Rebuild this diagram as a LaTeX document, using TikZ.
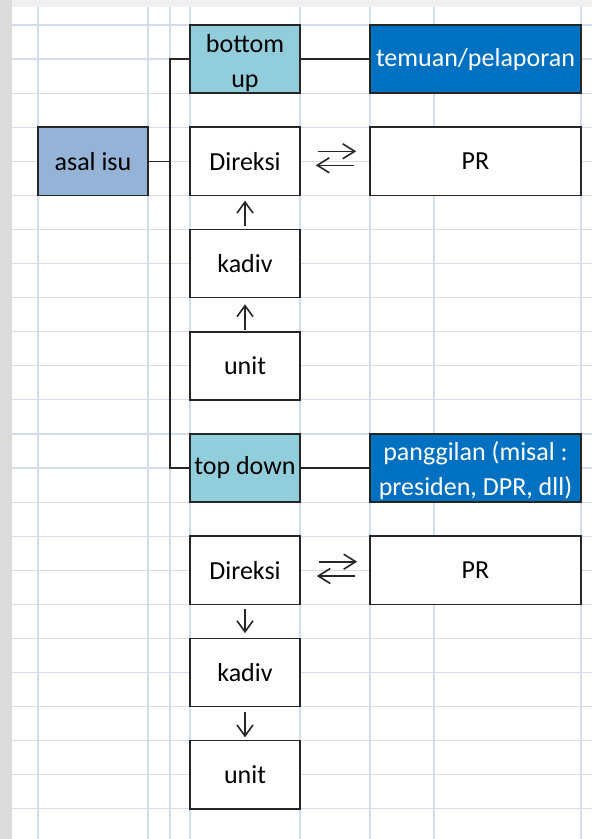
\documentclass[tikz,border=0pt]{standalone}
\usepackage{fontspec}
\setmainfont{Carlito}
\usetikzlibrary{arrows.meta}
\definecolor{gridc}{HTML}{D5DCEB}
\definecolor{lblue}{HTML}{92CDDC}
\definecolor{dblue}{HTML}{0070C0}
\definecolor{sblue}{HTML}{95B3D7}
\definecolor{edge}{HTML}{262626}
\tikzset{
  box/.style={draw=edge, line width=1.6pt, fill=white, minimum height=68.2pt,
    inner sep=0pt, align=center, font=\fontsize{26}{35}\selectfont, text=black},
  narrowbox/.style={box, minimum width=110pt},
  widebox/.style={box, minimum width=211pt},
  link/.style={draw=edge, line width=1.5pt},
  vtip/.style={draw=edge, line width=1.6pt, -{Straight Barb[length=11pt,width=16pt]}},
  htip/.style={draw=edge, line width=1.6pt, -{Straight Barb[length=12pt,width=15pt]}},
  gridline/.style={draw=gridc, line width=1.2pt}
}
\begin{document}
\begin{tikzpicture}[x=1pt,y=-1pt]
\useasboundingbox (0,0) rectangle (592,839);
\fill[white] (0,0) rectangle (592,839);
\fill[black!6] (0,0) rectangle (592,7);
\fill[black!14] (0,0) rectangle (12,839);
% grid
\foreach \xx in {38,148,170,190,300,370,434,581}
  \draw[gridline] (\xx,7) -- (\xx,839);
\foreach \k in {0,...,23}
  \draw[gridline] (12,25+34.08*\k) -- (592,25+34.08*\k);
% boxes
\node[narrowbox, fill=lblue] (bu) at (245,59.1) {\rule{0pt}{25pt}bottom\\up};
\node[widebox, fill=dblue, text=white] (tem) at (475.5,59.1) {temuan/pelaporan};
\node[narrowbox, fill=sblue] (asal) at (93,161.3) {asal isu};
\node[narrowbox] (d1) at (245,161.3) {Direksi};
\node[widebox] (pr1) at (475.5,161.3) {PR};
\node[narrowbox] (k1) at (245,263.4) {kadiv};
\node[narrowbox] (u1) at (245,365.8) {unit};
\node[narrowbox, fill=lblue] (td) at (245,468) {top down};
\node[widebox, fill=dblue, text=white] (pg) at (475.5,468) {\rule{0pt}{25pt}panggilan (misal :\\presiden, DPR, dll)};
\node[narrowbox] (d2) at (245,570.3) {Direksi};
\node[widebox] (pr2) at (475.5,570.3) {PR};
\node[narrowbox] (k2) at (245,672.5) {kadiv};
\node[narrowbox] (u2) at (245,774.7) {unit};
% connectors
\coordinate (trunk) at (170,161.3);
\draw[link] (bu.west) -- (bu.west -| trunk) |- (td.west);
\draw[link] (asal.east) -- (trunk);
\draw[link] (bu.east) -- (tem.west);
\draw[link] (td.east) -- (pg.west);
% vertical arrows
\draw[vtip, shorten <=3pt, shorten >=4.5pt] (k1.north) -- (d1.south);
\draw[vtip, shorten <=1pt, shorten >=6pt] (u1.north) -- (k1.south);
\draw[vtip, shorten <=4pt, shorten >=4.5pt] (d2.south) -- (k2.north);
\draw[vtip, shorten <=5pt, shorten >=2.5pt] (k2.south) -- (u2.north);
% double arrows
\draw[htip, shorten <=17pt, shorten >=13pt] ([yshift=10pt]d1.east) -- ([yshift=10pt]pr1.west);
\draw[htip, shorten <=15pt, shorten >=15pt] ([yshift=-4pt]pr1.west) -- ([yshift=-4pt]d1.east);
\draw[htip, shorten <=18pt, shorten >=12pt] ([yshift=8.6pt]d2.east) -- ([yshift=8.6pt]pr2.west);
\draw[htip, shorten <=14pt, shorten >=16pt] ([yshift=-5.7pt]pr2.west) -- ([yshift=-5.7pt]d2.east);
\end{tikzpicture}
\end{document}
